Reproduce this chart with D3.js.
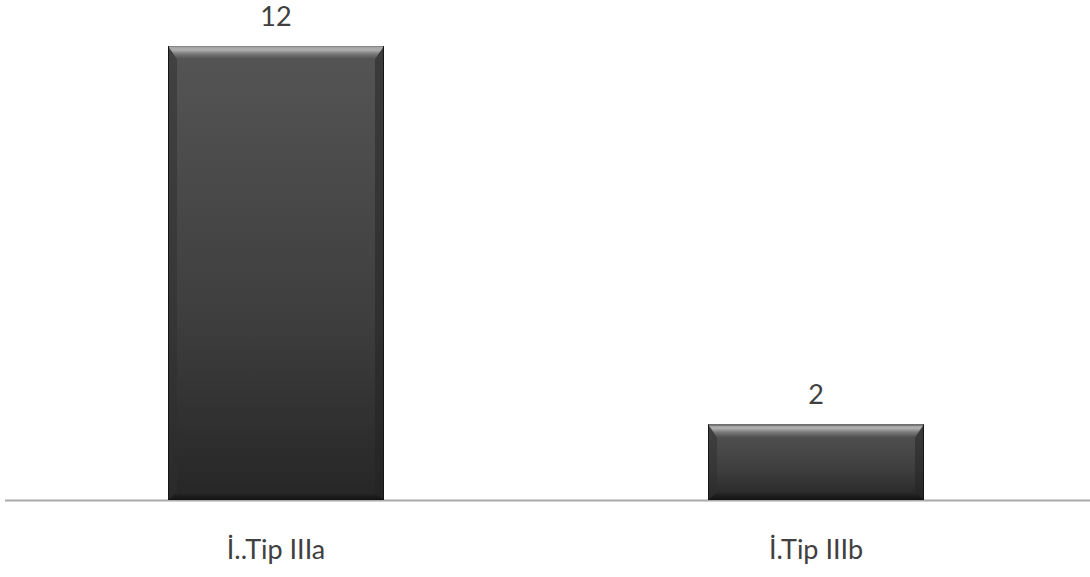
<!DOCTYPE html>
<html><head><meta charset="utf-8">
<script src="https://cdn.jsdelivr.net/npm/d3@7"></script>
<style>body{margin:0;background:#fff}svg{display:block}</style>
</head><body>
<script>
const categories = ["İ..Tip IIIa", "İ.Tip IIIb"];
const values = [12, 2];

const W = 1090, H = 577;
const m = {top: 46, bottom: 77};
const svg = d3.select("body").append("svg").attr("width", W).attr("height", H);
const defs = svg.append("defs");

const x = d3.scaleBand().domain(categories).range([6, 1086]).paddingInner(0.6).paddingOuter(0.3);
const y = d3.scaleLinear().domain([0, 12]).range([H - m.bottom, m.top]);

function lg(id, stops) {
  const g = defs.append("linearGradient").attr("id", id)
    .attr("x1", 0).attr("y1", 0).attr("x2", 0).attr("y2", 1);
  stops.forEach(s => g.append("stop").attr("offset", s[0]).attr("stop-color", s[1]));
}
lg("face", [[0, "#555"], [0.6, "#3e3e3e"], [1, "#262626"]]);
lg("topB", [[0, "#9a9a9a"], [0.3, "#b0b0b0"], [0.6, "#7a7a7a"], [1, "#505050"]]);
lg("botB", [[0, "#2a2a2a"], [1, "#121212"]]);

// baseline
svg.append("line").attr("x1", 5).attr("x2", W).attr("y1", y(0) + 0.5).attr("y2", y(0) + 0.5)
  .attr("stroke", "#aaa").attr("stroke-width", 2);

const bw = 216;
const font = "Lato, 'Open Sans', sans-serif";
const bars = svg.selectAll("g.bar").data(categories.map((c, i) => ({c, v: values[i]}))).join("g").attr("class", "bar");
bars.each(function(d) {
  const g = d3.select(this);
  const x0 = x(d.c) + x.bandwidth() / 2 - bw / 2, x1 = x0 + bw;
  const y0 = y(d.v), y1 = y(0);
  const t = 13, s = 9, b = 8;
  g.append("rect").attr("x", x0).attr("y", y0).attr("width", bw).attr("height", y1 - y0).attr("fill", "url(#face)");
  g.append("polygon").attr("points", [[x0, y0], [x0 + s, y0 + t], [x0 + s, y1 - b], [x0, y1]].join(" ")).attr("fill", "#2e2e2e").attr("opacity", 0.5);
  g.append("polygon").attr("points", [[x1, y0], [x1, y1], [x1 - s, y1 - b], [x1 - s, y0 + t]].join(" ")).attr("fill", "#222").attr("opacity", 0.5);
  g.append("polygon").attr("points", [[x0, y0], [x1, y0], [x1 - s, y0 + t], [x0 + s, y0 + t]].join(" ")).attr("fill", "url(#topB)");
  g.append("polygon").attr("points", [[x0, y1], [x0 + s, y1 - b], [x1 - s, y1 - b], [x1, y1]].join(" ")).attr("fill", "url(#botB)");
  g.append("rect").attr("x", x0 + 0.5).attr("y", y0 + 0.5).attr("width", bw - 1).attr("height", y1 - y0 - 1)
    .attr("fill", "none").attr("stroke", "#151515").attr("stroke-width", 1);
  g.append("line").attr("x1", x0 + 1).attr("x2", x1 - 1).attr("y1", y0 + 0.5).attr("y2", y0 + 0.5).attr("stroke", "#888");
  g.append("text").attr("x", (x0 + x1) / 2).attr("y", y0 - 20).attr("text-anchor", "middle")
    .attr("font-family", font).attr("font-size", 27).attr("fill", "#404040").text(d.v);
  g.append("text").attr("x", (x0 + x1) / 2).attr("y", 559).attr("text-anchor", "middle")
    .attr("font-family", font).attr("font-size", 27).attr("fill", "#404040").text(d.c);
});
</script>
</body></html>
